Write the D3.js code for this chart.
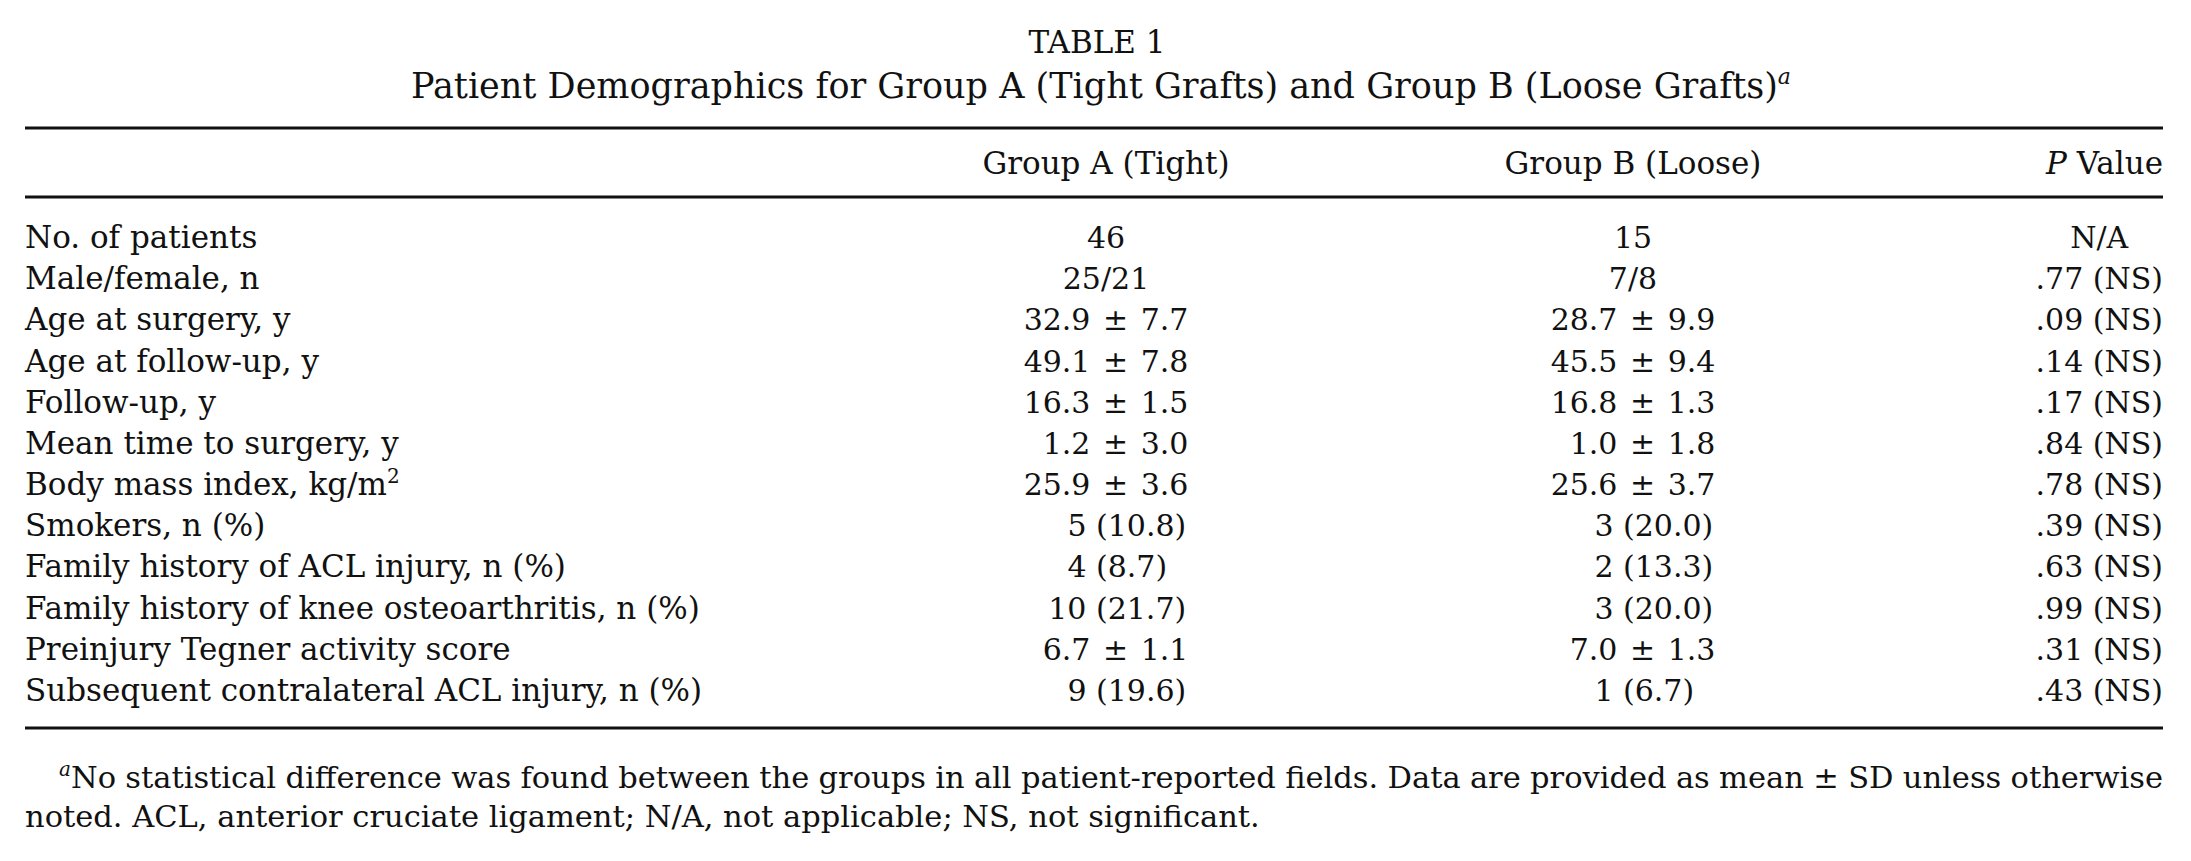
<!DOCTYPE html>
<html>
<head>
<meta charset="utf-8">
<script src="https://cdn.jsdelivr.net/npm/d3@7"></script>
<style>
  body { margin: 0; background: #fff; }
  svg text { font-family: "DejaVu Serif", serif; fill: #111; }
</style>
</head>
<body>
<div id="chart"></div>
<script>
const tableTitle = "TABLE 1"
const tableSubtitle = "Patient Demographics for Group A (Tight Grafts) and Group B (Loose Grafts)"

const characteristics = [
  "No. of patients",
  "Male/female, n",
  "Age at surgery, y",
  "Age at follow-up, y",
  "Follow-up, y",
  "Mean time to surgery, y",
  "Body mass index, kg/m",
  "Smokers, n (%)",
  "Family history of ACL injury, n (%)",
  "Family history of knee osteoarthritis, n (%)",
  "Preinjury Tegner activity score",
  "Subsequent contralateral ACL injury, n (%)"
]

const groupA = ["46", "25/21", "32.9 ± 7.7", "49.1 ± 7.8", "16.3 ± 1.5", "1.2 ± 3.0",
  "25.9 ± 3.6", "5 (10.8)", "4 (8.7)", "10 (21.7)", "6.7 ± 1.1", "9 (19.6)"]

const groupB = ["15", "7/8", "28.7 ± 9.9", "45.5 ± 9.4", "16.8 ± 1.3", "1.0 ± 1.8",
  "25.6 ± 3.7", "3 (20.0)", "2 (13.3)", "3 (20.0)", "7.0 ± 1.3", "1 (6.7)"]

const pValues = ["N/A", ".77 (NS)", ".09 (NS)", ".14 (NS)", ".17 (NS)", ".84 (NS)",
  ".78 (NS)", ".39 (NS)", ".63 (NS)", ".99 (NS)", ".31 (NS)", ".43 (NS)"]

const groupHeaders = ["Group A (Tight)", "Group B (Loose)"]

const footnoteLines = [
  "No statistical difference was found between the groups in all patient-reported fields. Data are provided as mean ± SD unless otherwise",
  "noted. ACL, anterior cruciate ligament; N/A, not applicable; NS, not significant."
]

const width = 2191
const height = 861
const left = 25
const right = 2163
const fontSize = 31
const valueSize = 30

const svg = d3.select("#chart")
  .append("svg")
  .attr("width", width)
  .attr("height", height)

svg.append("rect").attr("width", width).attr("height", height).attr("fill", "#fff")

// row positions
const y = d3.scalePoint()
  .domain(characteristics)
  .range([248, 701])

// column centres for the two groups
const x = d3.scalePoint()
  .domain(groupHeaders)
  .range([1106, 1633])

// title
svg.append("text")
  .attr("x", 1097).attr("y", 53)
  .attr("text-anchor", "middle")
  .style("font-size", "31px")
  .text(tableTitle)

const sub = svg.append("text")
  .attr("x", 1101).attr("y", 98)
  .attr("text-anchor", "middle")
  .style("font-size", "35px")
sub.append("tspan").text(tableSubtitle)
sub.append("tspan").attr("dy", -14).style("font-size", "22px").style("font-style", "italic").text("a")

// rules
const rules = [128, 197, 728]
svg.selectAll("line.rule")
  .data(rules)
  .enter()
  .append("line")
  .attr("class", "rule")
  .attr("x1", left).attr("x2", right)
  .attr("y1", d => d).attr("y2", d => d)
  .attr("stroke", "#111")
  .attr("stroke-width", 3)

// headers
svg.selectAll("text.head")
  .data(groupHeaders)
  .enter()
  .append("text")
  .attr("class", "head")
  .attr("x", d => x(d))
  .attr("y", 174)
  .attr("text-anchor", "middle")
  .style("font-size", fontSize + "px")
  .text(d => d)

const pHead = svg.append("text")
  .attr("x", right).attr("y", 174)
  .attr("text-anchor", "end")
  .style("font-size", fontSize + "px")
pHead.append("tspan").style("font-style", "italic").text("P")
pHead.append("tspan").text(" Value")

// row labels
const labels = svg.selectAll("text.label")
  .data(characteristics)
  .enter()
  .append("text")
  .attr("class", "label")
  .attr("x", left)
  .attr("y", d => y(d))
  .style("font-size", fontSize + "px")
labels.append("tspan").text(d => d)
labels.filter(d => d.endsWith("kg/m"))
  .append("tspan").attr("dy", -12).style("font-size", "20px").text("2")

// group values, lined up on the ± or the opening bracket
function drawGroup(values, group) {
  const cx = x(group)
  svg.selectAll(null)
    .data(values)
    .enter()
    .append("text")
    .attr("y", (d, i) => y(characteristics[i]))
    .attr("word-spacing", d => d.includes("±") ? 3 : 0)
    .style("font-size", valueSize + "px")
    .text(d => d)
    .each(function(d) {
      const el = d3.select(this)
      let idx = d.indexOf("±")
      let anchor = cx - 3
      if (idx < 0) { idx = d.indexOf("("); anchor = cx - 10 }
      if (idx < 0) {
        el.attr("x", cx).attr("text-anchor", "middle")
      } else {
        const pre = this.getSubStringLength(0, idx)
        el.attr("x", anchor - pre)
      }
    })
}
drawGroup(groupA, groupHeaders[0])
drawGroup(groupB, groupHeaders[1])

// P values centred in their column, the widest one ends on the right rule
const pvals = svg.selectAll("text.pval")
  .data(pValues)
  .enter()
  .append("text")
  .attr("class", "pval")
  .attr("y", (d, i) => y(characteristics[i]))
  .attr("text-anchor", "middle")
  .style("font-size", valueSize + "px")
  .text(d => d)
let widest = 0
pvals.each(function() { widest = Math.max(widest, this.getComputedTextLength()) })
pvals.attr("x", right - widest / 2)

// footnote, first line justified
const fnSize = 30.5
const fnIndent = 59
const fn1 = svg.append("text")
  .attr("x", fnIndent).attr("y", 788)
  .style("font-size", fnSize + "px")
fn1.append("tspan").attr("dy", -12).style("font-size", "20px").style("font-style", "italic").text("a")
fn1.append("tspan").attr("dy", 12).text(footnoteLines[0])
const len = fn1.node().getComputedTextLength()
const spaces = footnoteLines[0].split(" ").length - 1
fn1.attr("word-spacing", (right - fnIndent - len) / spaces)

svg.append("text")
  .attr("x", left).attr("y", 827)
  .style("font-size", fnSize + "px")
  .text(footnoteLines[1])
</script>
</body>
</html>
